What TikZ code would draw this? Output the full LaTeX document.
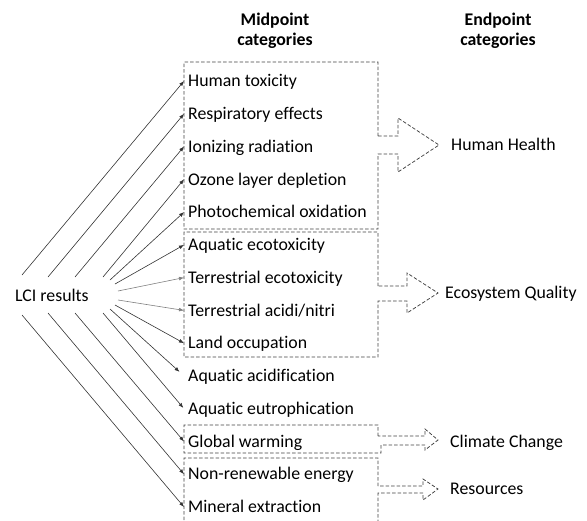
\documentclass[tikz,border=0pt]{standalone}
\usepackage{fontspec}
\setmainfont{Carlito}[Ligatures={NoCommon}]
\usetikzlibrary{arrows.meta}
\begin{document}
\begin{tikzpicture}[x=1pt,y=-1pt,
  font=\fontsize{17.8}{20}\selectfont,
  item/.style={anchor=west, inner xsep=4pt, inner ysep=0pt, text height=11.4pt, text depth=0pt},
  lbl/.style={anchor=base west, inner sep=0pt},
  head/.style={anchor=base, inner sep=0pt, font=\fontsize{17.8}{20}\selectfont\bfseries},
  feed/.style={draw=black!80, line width=0.6pt, -{Latex[length=5pt,width=3.8pt]}},
  feedlight/.style={feed, draw=black!50},
  grp/.style={draw=black!75, line width=0.75pt, dash pattern=on 3.5pt off 2pt}]
\useasboundingbox (0,0) rectangle (587,520);
\clip (0,0) rectangle (587,520);

% headings
\node[head] (hm1) at (275,25) {Midpoint};
\node[head] (hm2) at (275,45) {categories};
\node[head] (he1) at (498,25) {Endpoint};
\node[head] (he2) at (498,45) {categories};

% midpoint items
\node[item] (m1)  at (184,81)    {Human toxicity};
\node[item] (m2)  at (184,113.8) {Respiratory effects};
\node[item] (m3)  at (184,146.5) {Ionizing radiation};
\node[item] (m4)  at (184,179.3) {Ozone layer depletion};
\node[item] (m5)  at (184,212.1) {Photochemical oxidation};
\node[item] (m6)  at (184,244.9) {Aquatic ecotoxicity};
\node[item] (m7)  at (184,277.6) {Terrestrial ecotoxicity};
\node[item] (m8)  at (184,310.4) {Terrestrial acidi/nitri};
\node[item] (m9)  at (184,343.2) {Land occupation};
\node[item] (m10) at (184,375.9) {Aquatic acidification};
\node[item] (m11) at (184,408.7) {Aquatic eutrophication};
\node[item] (m12) at (184,441.5) {Global warming};
\node[item] (m13) at (184,474.2) {Non-renewable energy};
\node[item] (m14) at (184,507)   {Mineral extraction};

% LCI
\node[lbl] (lci) at (15,301) {LCI results};
\coordinate (s1)  at (22,275);
\coordinate (s2)  at (48,277);
\coordinate (s3)  at (75,277);
\coordinate (s4)  at (103,277);
\coordinate (s5)  at (110,280);
\coordinate (s6)  at (115,284);
\coordinate (s7)  at (118,291);
\coordinate (s8)  at (118,300);
\coordinate (s9)  at (115,305);
\coordinate (s10) at (110,309);
\coordinate (s11) at (103,313);
\coordinate (s12) at (75,313);
\coordinate (s13) at (48,313);
\coordinate (s14) at (22,315);

\draw[feed] (s1) -- (m1.west);
\draw[feed] (s2) -- (m2.west);
\draw[feed] (s3) -- (m3.west);
\draw[feed] (s4) -- (m4.west);
\draw[feed] (s5) -- (m5.west);
\draw[feed] (s6) -- (m6.west);
\draw[feedlight] (s7) -- (m7.west);
\draw[feedlight] (s8) -- (m8.west);
\draw[feed] (s9) -- (m9.west);
\draw[feed, shorten >=6pt] (s10) -- (m10.west);
\draw[feed, shorten >=1pt] (s11) -- (m11.west);
\draw[feed] (s12) -- (m12.west);
\draw[feed] (s13) -- (m13.west);
\draw[feed] (s14) -- (m14.west);

% group boxes with block arrows
\draw[grp] (378,136) -- (378,62) -- (184,62) -- (184,229) -- (378,229) -- (378,154)
  -- (398,154) -- (398,172) -- (439,145) -- (398,118) -- (398,136) -- cycle;
\draw[grp] (378,286) -- (378,232) -- (184,232) -- (184,357) -- (378,357) -- (378,301)
  -- (407,301) -- (407,313) -- (438,293) -- (407,273) -- (407,286) -- cycle;
\draw[grp] (378,436) -- (378,425) -- (184,425) -- (184,453) -- (381,453) -- (381,445)
  -- (425,445) -- (425,450) -- (438,440) -- (425,429) -- (425,436) -- cycle;
\draw[grp] (378,486) -- (378,458) -- (184,458) -- (184,530) -- (378,530) -- (378,493)
  -- (423,493) -- (423,500) -- (438,489) -- (423,479) -- (423,486) -- cycle;

% endpoint labels
\node[lbl] (e1) at (451,150.7) {Human Health};
\node[lbl] (e2) at (445,298.7) {Ecosystem Quality};
\node[lbl] (e3) at (450,447)   {Climate Change};
\node[lbl] (e4) at (450,494)   {Resources};
\end{tikzpicture}
\end{document}
